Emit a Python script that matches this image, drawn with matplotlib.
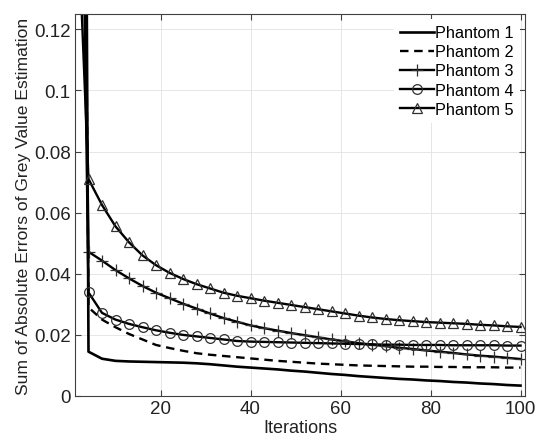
import matplotlib
matplotlib.use('Agg')
import matplotlib.pyplot as plt

plt.rcParams['font.family'] = ['Liberation Sans', 'DejaVu Sans']

# iteration 1, then every 3rd iteration from 4 to 100
iterations = [1] + list(range(4, 101, 3))

phantom1 = [0.9, 0.0145, 0.0122, 0.0115, 0.0113, 0.0112, 0.0111, 0.0110, 0.0109, 0.0107,
            0.0104, 0.0100, 0.0096, 0.0093, 0.0090, 0.0087, 0.0083, 0.0080, 0.0076, 0.0072,
            0.0069, 0.0065, 0.0062, 0.0059, 0.0056, 0.0054, 0.0051, 0.0049, 0.0046, 0.0044,
            0.0041, 0.0039, 0.0036, 0.0034]
phantom2 = [0.6, 0.0290, 0.0250, 0.0225, 0.0203, 0.0185, 0.0167, 0.0157, 0.0148, 0.0140,
            0.0135, 0.0131, 0.0127, 0.0123, 0.0119, 0.0115, 0.0112, 0.0109, 0.0106, 0.0104,
            0.0102, 0.0100, 0.0099, 0.0098, 0.0097, 0.0096, 0.0096, 0.0095, 0.0095, 0.0094,
            0.0094, 0.0094, 0.0093, 0.0093]
phantom3 = [0.4, 0.0472, 0.0443, 0.0412, 0.0385, 0.0360, 0.0338, 0.0320, 0.0302, 0.0286,
            0.0270, 0.0255, 0.0243, 0.0231, 0.0222, 0.0214, 0.0206, 0.0199, 0.0192, 0.0185,
            0.0179, 0.0173, 0.0168, 0.0163, 0.0158, 0.0154, 0.0149, 0.0145, 0.0141, 0.0136,
            0.0132, 0.0129, 0.0125, 0.0121]
phantom4 = [0.35, 0.0339, 0.0272, 0.0250, 0.0236, 0.0225, 0.0215, 0.0207, 0.0200, 0.0195,
            0.0190, 0.0185, 0.0180, 0.0178, 0.0177, 0.0176, 0.0175, 0.0174, 0.0173, 0.0172,
            0.0171, 0.0170, 0.0169, 0.0168, 0.0168, 0.0167, 0.0167, 0.0167, 0.0166, 0.0166,
            0.0166, 0.0166, 0.0165, 0.0165]
phantom5 = [0.18, 0.0710, 0.0625, 0.0555, 0.0503, 0.0460, 0.0428, 0.0403, 0.0383, 0.0366,
            0.0352, 0.0338, 0.0328, 0.0320, 0.0312, 0.0305, 0.0298, 0.0291, 0.0284, 0.0277,
            0.0270, 0.0263, 0.0257, 0.0252, 0.0248, 0.0245, 0.0242, 0.0240, 0.0238, 0.0236,
            0.0233, 0.0231, 0.0228, 0.0226]

labels = ['Phantom 1', 'Phantom 2', 'Phantom 3', 'Phantom 4', 'Phantom 5']
yticks = [0, 0.02, 0.04, 0.06, 0.08, 0.1, 0.12]
ytick_labels = ['0', '0.02', '0.04', '0.06', '0.08', '0.1', '0.12']
xticks = [20, 40, 60, 80, 100]

fig = plt.figure(figsize=(5.37, 4.39), dpi=100)
ax = fig.add_axes([75 / 537, 42 / 439, 450 / 537, 382 / 439])

lw = 1.7
mk = dict(markevery=slice(1, None), markerfacecolor='none', markeredgecolor='#303030',
          markeredgewidth=0.9)
ax.plot(iterations, phantom1, color='black', lw=1.9, label=labels[0])
ax.plot(iterations, phantom2, color='black', lw=lw, linestyle=(0, (3.6, 2.4)), label=labels[1])
ax.plot(iterations, phantom3, color='black', lw=lw, marker='+', markersize=8, label=labels[2], **mk)
ax.plot(iterations, phantom4, color='black', lw=lw, marker='o', markersize=7, label=labels[3], **mk)
ax.plot(iterations, phantom5, color='black', lw=lw, marker='^', markersize=7.5, label=labels[4], **mk)

ax.set_xlim(1, 101)
ax.set_ylim(0, 0.125)
ax.set_xticks(xticks)
ax.set_yticks(yticks)
ax.set_yticklabels(ytick_labels)

ax.grid(True, color='#e2e2e2', linewidth=0.6)
ax.set_axisbelow(True)
for s in ax.spines.values():
    s.set_color('#404040')
    s.set_linewidth(0.8)
ax.tick_params(direction='in', top=True, right=True, length=4, width=0.8,
               colors='#404040', labelcolor='#222222', labelsize=13.5, pad=3)

ax.set_xlabel('Iterations', fontsize=13, color='#222222', labelpad=1)
ax.set_ylabel('Sum of Absolute Errors of Grey Value Estimation', fontsize=12.6,
              color='#222222', labelpad=2)

legend = ax.legend(loc='upper right', fontsize=11.7, frameon=True, fancybox=False,
                   edgecolor='none', facecolor='white', framealpha=1,
                   handlelength=2.1, handletextpad=0.05, labelspacing=0.25,
                   borderaxespad=0.3, borderpad=0.4)

fig.savefig('out.png', dpi=100, facecolor='white')
